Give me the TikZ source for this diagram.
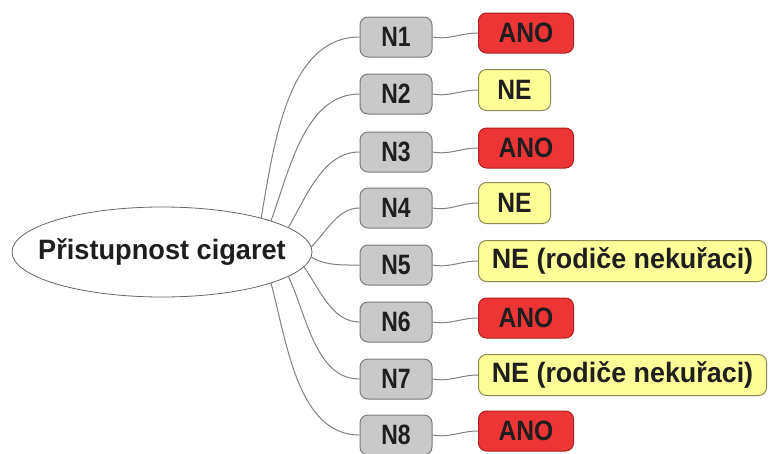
\documentclass[tikz,border=0pt]{standalone}
\usepackage{fontspec}
\setmainfont{Liberation Sans}
\newfontfamily\ftitle[FakeStretch=0.97]{Liberation Sans}
\newfontfamily\flong[FakeStretch=0.96]{Liberation Sans}
\newfontfamily\fans[FakeStretch=0.88]{Liberation Sans}
\newfontfamily\fnum[FakeStretch=0.82]{Liberation Sans}
\usetikzlibrary{shapes.geometric}
\definecolor{ngray}{HTML}{C9C9C9}
\definecolor{nborder}{HTML}{7A7A7A}
\definecolor{ared}{HTML}{EE3535}
\definecolor{aredb}{HTML}{B02020}
\definecolor{nyel}{HTML}{FFFF99}
\definecolor{nyelb}{HTML}{8A8A50}
\definecolor{lgray}{HTML}{808080}
\definecolor{txt}{HTML}{1E1E1E}
\tikzset{
  x=1pt, y=-1pt,
  every node/.style={text=txt},
  root/.style={ellipse, draw=black!60, line width=0.8pt, fill=white, minimum width=300pt, minimum height=90pt, inner xsep=-40pt, inner ysep=0pt, font=\ftitle\fontsize{28}{30}\selectfont\bfseries},
  nbox/.style={rectangle, rounded corners=8pt, draw=nborder, line width=1pt, fill=ngray, minimum width=72pt, minimum height=40pt, inner sep=0pt, font=\fnum\fontsize{28}{30}\selectfont\bfseries},
  ano/.style={rectangle, rounded corners=8pt, draw=aredb, line width=1pt, fill=ared, minimum width=95pt, minimum height=40pt, inner sep=0pt, anchor=west, font=\fans\fontsize{28}{30}\selectfont\bfseries},
  ne/.style={rectangle, rounded corners=8pt, draw=nyelb, line width=1pt, fill=nyel, minimum width=72pt, minimum height=41pt, inner sep=0pt, anchor=west, font=\fans\fontsize{28}{30}\selectfont\bfseries},
  nel/.style={ne, minimum width=288pt, font=\flong\fontsize{28}{30}\selectfont\bfseries},
  link/.style={draw=lgray, line width=1pt},
}
\begin{document}
\begin{tikzpicture}
\useasboundingbox (0,0) rectangle (769,453);
\node[root] (e) at (162,252) {Přistupnost cigaret};
\foreach \i/\y in {1/37,2/94,3/152,4/208,5/265,6/322,7/379,8/435}{
  \node[nbox] (n\i) at (396,\y) {N\i};
}
\node[ano] (a1) at (478,33) {ANO};
\node[ne]  (a2) at (478,90) {NE};
\node[ano] (a3) at (478,148) {ANO};
\node[ne]  (a4) at (478,203) {NE};
\node[nel] (a5) at (478,261) {NE (rodiče nekuřaci)};
\node[ano] (a6) at (478,318) {ANO};
\node[nel] (a7) at (478,375) {NE (rodiče nekuřaci)};
\node[ano] (a8) at (478,431) {ANO};
\draw[link] (e.19) to[out=80,in=180,looseness=0.9] (n1.west);
\draw[link] (e.16) to[out=70,in=180,looseness=0.9] (n2.west);
\draw[link] (e.11) to[out=60,in=180,looseness=0.9] (n3.west);
\draw[link] (e.2) to[out=45,in=180,looseness=0.9] (n4.west);
\draw[link] (e.-2) to[out=-30,in=180,looseness=0.9] (n5.west);
\draw[link] (e.-6.5) to[out=-55,in=180,looseness=0.9] (n6.west);
\draw[link] (e.-11) to[out=-65,in=180,looseness=0.9] (n7.west);
\draw[link] (e.-16.5) to[out=-75,in=180,looseness=0.9] (n8.west);
\foreach \i in {1,...,8}{
  \draw[link] (n\i.east) to[out=-10,in=180] (a\i.west);
}
\end{tikzpicture}
\end{document}
